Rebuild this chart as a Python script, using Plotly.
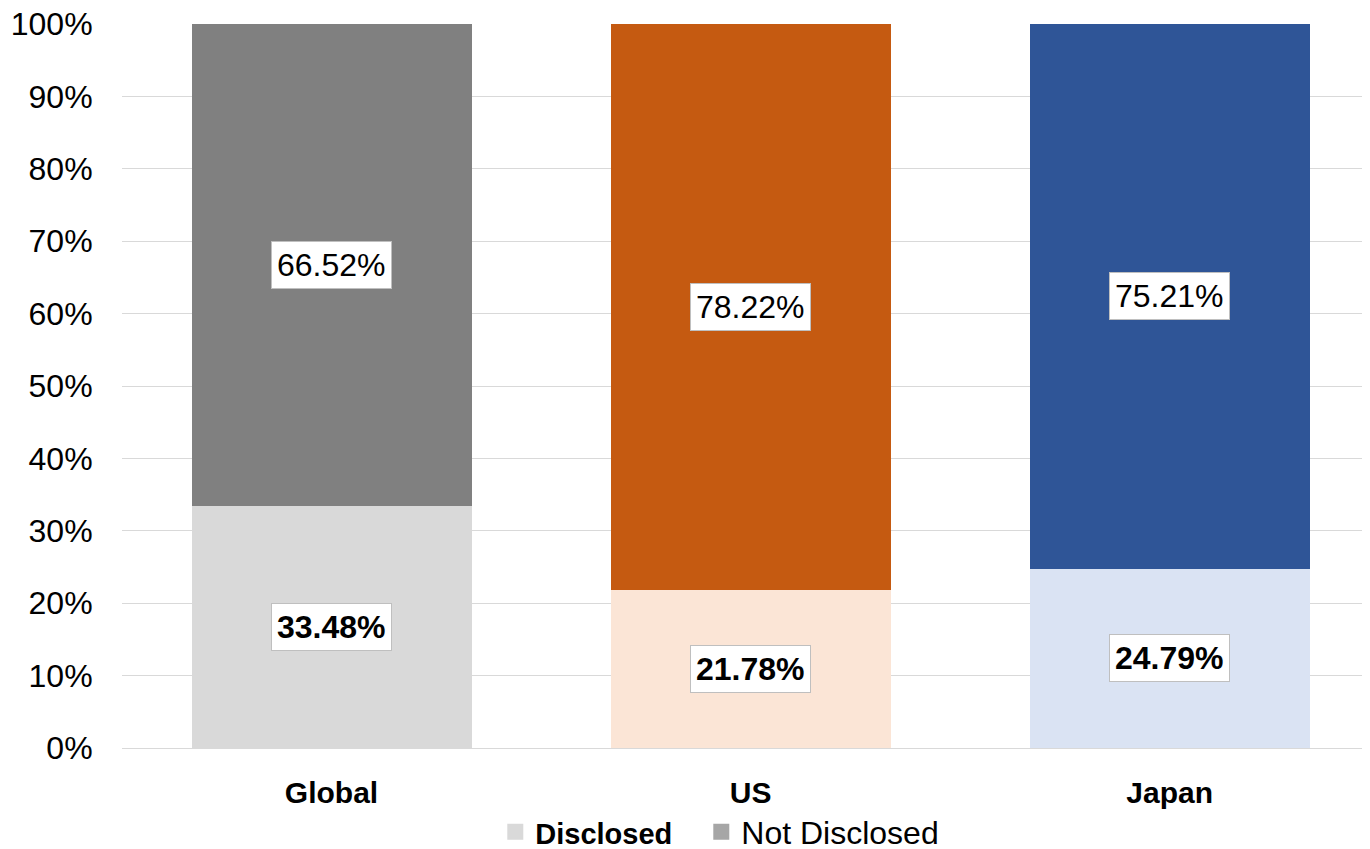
import plotly.graph_objects as go

categories = ["Global", "US", "Japan"]
disclosed = [33.48, 21.78, 24.79]
not_disclosed = [66.52, 78.22, 75.21]
disclosed_colors = ["#d9d9d9", "#fbe5d6", "#dae3f3"]
not_disclosed_colors = ["#808080", "#c55a11", "#2f5597"]
legend_colors = ["#d9d9d9", "#a6a6a6"]
y_ticks = list(range(0, 101, 10))

FONT = "Liberation Sans, Arial, sans-serif"
FS = 32

fig = go.Figure()
fig.add_trace(go.Bar(x=categories, y=disclosed, marker=dict(color=disclosed_colors, line=dict(width=0)),
                     width=0.668, showlegend=False, hoverinfo="y"))
fig.add_trace(go.Bar(x=categories, y=not_disclosed, marker=dict(color=not_disclosed_colors, line=dict(width=0)),
                     width=0.668, showlegend=False, hoverinfo="y"))
# legend entries
fig.add_trace(go.Scatter(x=[None], y=[None], mode="markers",
                         name="<b><span style='font-size:29px'>Disclosed</span></b>\u2002\u2005",
                         marker=dict(symbol="square", size=18, color=legend_colors[0])))
fig.add_trace(go.Scatter(x=[None], y=[None], mode="markers", name="Not Disclosed",
                         marker=dict(symbol="square", size=18, color=legend_colors[1])))

for c, d, n in zip(categories, disclosed, not_disclosed):
    fig.add_annotation(x=c, y=d / 2, text=f"<b>{d:.2f}%</b>", showarrow=False,
                       bgcolor="white", bordercolor="#bfbfbf", borderwidth=1, borderpad=5,
                       font=dict(family=FONT, size=FS, color="black"))
    fig.add_annotation(x=c, y=d + n / 2, text=f"{n:.2f}%", showarrow=False,
                       bgcolor="white", bordercolor="#bfbfbf", borderwidth=1, borderpad=5,
                       font=dict(family=FONT, size=FS, color="black"))

fig.update_layout(
    barmode="stack",
    width=1362, height=841,
    margin=dict(l=114, r=0, t=16, b=101, autoexpand=False),
    plot_bgcolor="white", paper_bgcolor="white",
    font=dict(family=FONT, size=FS, color="black"),
    legend=dict(orientation="h", x=0.479, xanchor="center", y=-0.116, yanchor="middle",
                traceorder="normal",
                font=dict(family=FONT, size=FS, color="black"), itemsizing="trace",
                bgcolor="rgba(0,0,0,0)", tracegroupgap=0),
    xaxis=dict(range=[-0.5, 2.478], showgrid=False, showline=False, zeroline=False,
               automargin=False,
               tickfont=dict(family=FONT, size=30, color="black"),
               tickvals=categories, ticktext=[f"<b>{c}</b>" for c in categories],
               ticks="outside", ticklen=18, tickcolor="rgba(0,0,0,0)"),
    yaxis=dict(range=[0, 100], tickvals=y_ticks, ticktext=[f"{v}%" for v in y_ticks],
               automargin=False, ticklabeloverflow="allow",
               showgrid=True, gridcolor="#d9d9d9", gridwidth=1, zeroline=True,
               zerolinecolor="#d9d9d9", zerolinewidth=1, showline=False,
               tickfont=dict(family=FONT, size=FS, color="black"),
               ticks="outside", ticklen=22, tickcolor="rgba(0,0,0,0)"),
)

fig.write_html("out.html")
